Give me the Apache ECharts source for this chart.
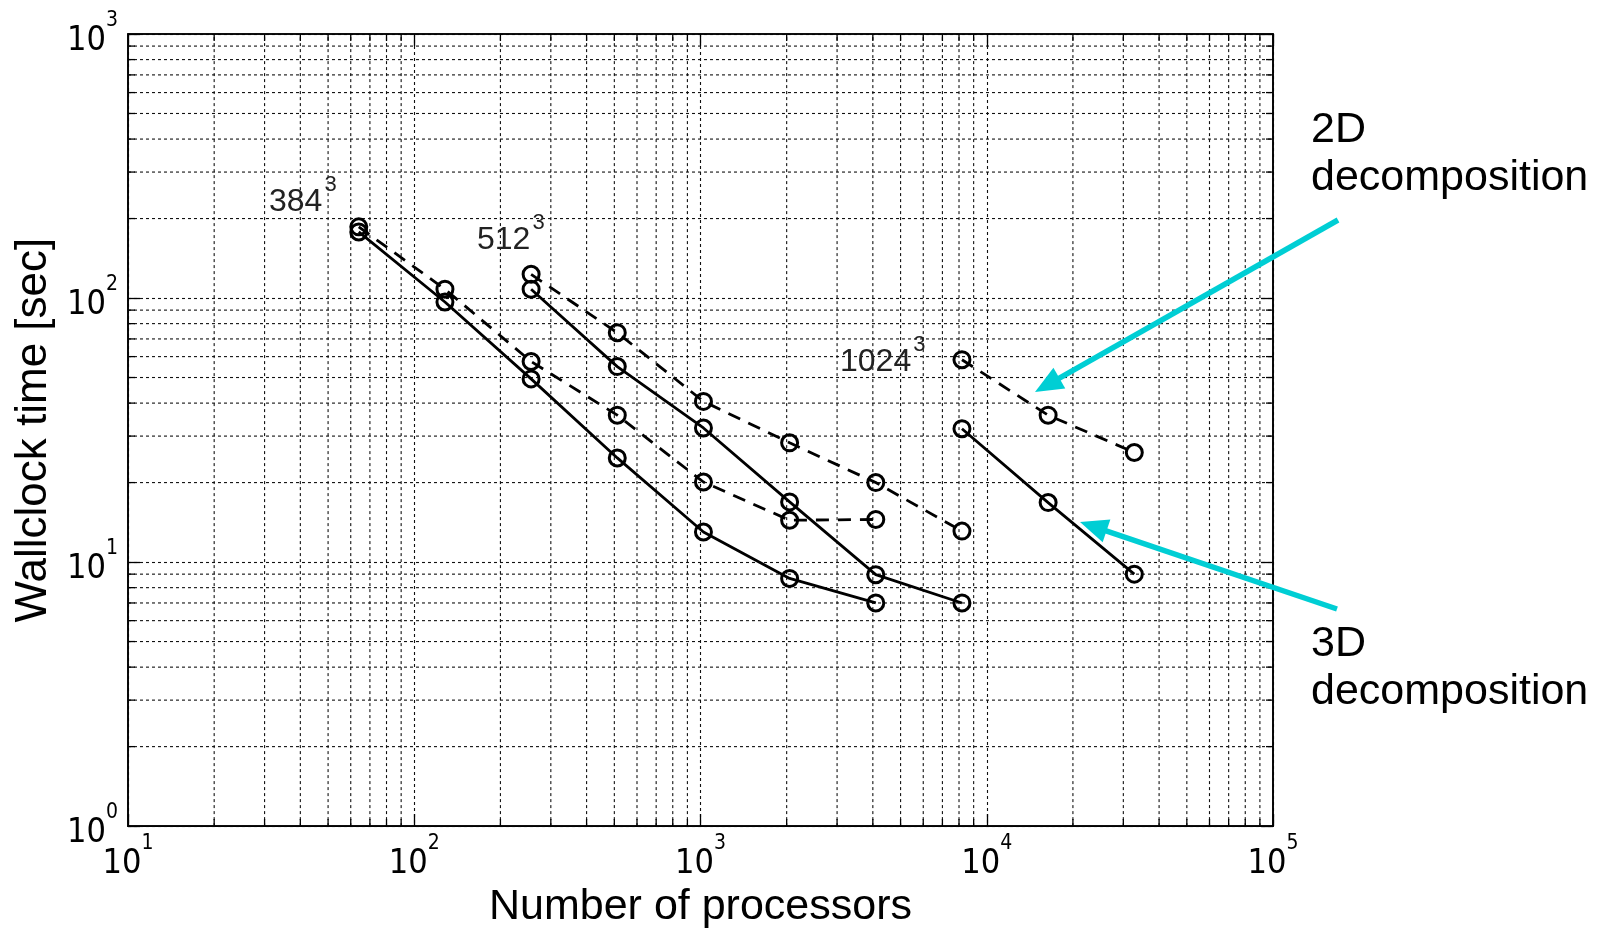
<!DOCTYPE html>
<html><head><meta charset="utf-8">
<script src="https://cdn.jsdelivr.net/npm/echarts@6/dist/echarts.min.js"></script>
<style>html,body{margin:0;padding:0;background:#fff}#c{width:1608px;height:934px}</style>
</head><body><div id="c"></div>
<script>
// ---- data ----
const procs384 = [64, 128, 256, 512, 1024, 2048, 4096];
const time384_2D = [186, 108, 57.5, 36, 20.1, 14.4, 14.5];
const time384_3D = [178, 96.6, 49.4, 24.8, 13.0, 8.67, 7.0];
const procs512 = [256, 512, 1024, 2048, 4096, 8192];
const time512_2D = [123, 73.9, 40.6, 28.3, 20.0, 13.1];
const time512_3D = [108, 55, 32.2, 16.9, 8.96, 7.0];
const procs1024 = [8192, 16384, 32768];
const time1024_2D = [58.4, 36.0, 26.0];
const time1024_3D = [32.0, 16.8, 9.0];
const xDecades = [10, 100, 1000, 10000, 100000];
const yDecades = [1, 10, 100, 1000];
const gridSizes = ['384', '512', '1024'];
const xTitle = 'Number of processors';
const yTitle = 'Wallclock time [sec]';
const note2D = '2D\ndecomposition';
const note3D = '3D\ndecomposition';

const minorOf = decs => {
  const out = [];
  for (let i = 0; i < decs.length - 1; i++) for (let k = 2; k <= 9; k++) out.push(decs[i] * k);
  return out;
};
const xMinor = minorOf(xDecades);
const yMinor = minorOf(yDecades);

const TICKFONT = "'Liberation Sans Narrow','DejaVu Sans Condensed','Liberation Sans',sans-serif";
const FONT = "'Liberation Sans','Helvetica','Arial',sans-serif";
const tickRich = {
  b: {fontSize: 34, lineHeight: 48, fontFamily: TICKFONT, color: '#000', verticalAlign: 'bottom'},
  s: {fontSize: 21, lineHeight: 21, fontFamily: TICKFONT, color: '#000', verticalAlign: 'top'}
};
const expFmt = v => '{b|10}{s|' + Math.round(Math.log10(v)) + '}';
const GRID_DASH = [3, 3];
const gridDash = {color: '#111', width: 1.1, type: GRID_DASH};

function pairs(xs, ys) { return xs.map((x, i) => [x, ys[i]]); }

function lineSeries(xs, ys, dashed) {
  return {
    type: 'line', data: pairs(xs, ys), z: 5,
    symbol: 'circle', symbolSize: 16,
    itemStyle: {color: 'rgba(0,0,0,0)', borderColor: '#000', borderWidth: 3},
    lineStyle: {color: '#000', width: 2.8, type: dashed ? [13, 9] : 'solid'},
    emphasis: {disabled: true}, silent: true, animation: false
  };
}

function minorXItem(params, api) {
  const v = api.value(0);
  const p0 = api.coord([v, yDecades[0]]);
  const p1 = api.coord([v, yDecades[yDecades.length - 1]]);
  return {type: 'group', children: [
    {type: 'line', shape: {x1: p0[0], y1: p0[1], x2: p1[0], y2: p1[1]}, style: {stroke: '#111', lineWidth: 1.1, lineDash: GRID_DASH}},
    {type: 'line', shape: {x1: p0[0], y1: p0[1], x2: p0[0], y2: p0[1] - 7}, style: {stroke: '#000', lineWidth: 1.3}},
    {type: 'line', shape: {x1: p1[0], y1: p1[1], x2: p1[0], y2: p1[1] + 7}, style: {stroke: '#000', lineWidth: 1.3}}
  ]};
}
function minorYItem(params, api) {
  const v = api.value(1);
  const p0 = api.coord([xDecades[0], v]);
  const p1 = api.coord([xDecades[xDecades.length - 1], v]);
  return {type: 'group', children: [
    {type: 'line', shape: {x1: p0[0], y1: p0[1], x2: p1[0], y2: p1[1]}, style: {stroke: '#111', lineWidth: 1.1, lineDash: GRID_DASH}},
    {type: 'line', shape: {x1: p0[0], y1: p0[1], x2: p0[0] + 7, y2: p0[1]}, style: {stroke: '#000', lineWidth: 1.3}},
    {type: 'line', shape: {x1: p1[0], y1: p1[1], x2: p1[0] - 7, y2: p1[1]}, style: {stroke: '#000', lineWidth: 1.3}}
  ]};
}

function arrow(x0, y0, x1, y1) {
  const dx = x1 - x0, dy = y1 - y0, L = Math.hypot(dx, dy);
  const ux = dx / L, uy = dy / L, hl = 28, hw = 12;
  const bx = x1 - ux * hl, by = y1 - uy * hl;
  const col = '#00CED4';
  return [
    {type: 'line', shape: {x1: x0, y1: y0, x2: bx + ux * 2, y2: by + uy * 2}, style: {stroke: col, lineWidth: 5.5}, z: 20},
    {type: 'polygon', shape: {points: [[x1, y1], [bx - uy * hw, by + ux * hw], [bx + uy * hw, by - ux * hw]]}, style: {fill: col}, z: 20}
  ];
}

function annot(txt, x, y) {
  return {type: 'text', x: x, y: y, z: 20, style: {
    text: '{b|' + txt + '}{s|3}', align: 'left', verticalAlign: 'top',
    rich: {
      b: {fontSize: 32, lineHeight: 44, fontFamily: FONT, fill: '#222', verticalAlign: 'bottom'},
      s: {fontSize: 22, lineHeight: 22, fontFamily: FONT, fill: '#222', verticalAlign: 'top', padding: [0, 0, 0, 2]}
    }
  }};
}

const chart = echarts.init(document.getElementById('c'), null, {renderer: 'canvas'});
const axisCommon = {
  type: 'log', logBase: 10,
  axisLine: {show: true, onZero: false, lineStyle: {color: '#000', width: 1.6}},
  axisTick: {show: true, inside: true, length: 12, lineStyle: {color: '#000', width: 1.3}}
};
chart.setOption({
  animation: false,
  backgroundColor: '#fff',
  grid: {left: 128, right: 335, top: 34, bottom: 101, show: true, borderColor: '#000', borderWidth: 1.6, backgroundColor: 'transparent'},
  xAxis: [
    Object.assign({}, axisCommon, {
      min: xDecades[0], max: xDecades[xDecades.length - 1], position: 'bottom',
      splitLine: {show: true, lineStyle: gridDash},
      axisLabel: {formatter: expFmt, rich: tickRich, margin: 7},
      name: xTitle, nameLocation: 'middle', nameGap: 49,
      nameTextStyle: {fontSize: 43, fontFamily: FONT, color: '#000'}
    }),
    Object.assign({}, axisCommon, {
      min: xDecades[0], max: xDecades[xDecades.length - 1], position: 'top',
      splitLine: {show: false}, axisLabel: {show: false}
    })
  ],
  yAxis: [
    Object.assign({}, axisCommon, {
      min: yDecades[0], max: yDecades[yDecades.length - 1], position: 'left',
      splitLine: {show: true, lineStyle: gridDash},
      axisLabel: {formatter: expFmt, rich: tickRich, margin: 10},
      name: yTitle, nameLocation: 'middle', nameGap: 68, nameRotate: 90,
      nameTextStyle: {fontSize: 44, fontFamily: FONT, color: '#000'}
    }),
    Object.assign({}, axisCommon, {
      min: yDecades[0], max: yDecades[yDecades.length - 1], position: 'right',
      splitLine: {show: false}, axisLabel: {show: false}
    })
  ],
  series: [
    {type: 'custom', renderItem: minorXItem, data: xMinor.map(v => [v, yDecades[0]]), z: 1, silent: true, clip: false},
    {type: 'custom', renderItem: minorYItem, data: yMinor.map(v => [xDecades[0], v]), z: 1, silent: true, clip: false},
    lineSeries(procs384, time384_2D, true),
    lineSeries(procs384, time384_3D, false),
    lineSeries(procs512, time512_2D, true),
    lineSeries(procs512, time512_3D, false),
    lineSeries(procs1024, time1024_2D, true),
    lineSeries(procs1024, time1024_3D, false)
  ],
  graphic: [
    annot(gridSizes[0], 269, 174),
    annot(gridSizes[1], 477, 212),
    annot(gridSizes[2], 840, 334),
    {type: 'text', x: 1311, y: 106, z: 20, style: {text: note2D, fontSize: 43, lineHeight: 48, fontFamily: FONT, fill: '#000', align: 'left', verticalAlign: 'top'}},
    {type: 'text', x: 1311, y: 620, z: 20, style: {text: note3D, fontSize: 43, lineHeight: 48, fontFamily: FONT, fill: '#000', align: 'left', verticalAlign: 'top'}}
  ].concat(arrow(1338, 220, 1035, 392)).concat(arrow(1337, 609, 1080, 522))
});
</script></body></html>
